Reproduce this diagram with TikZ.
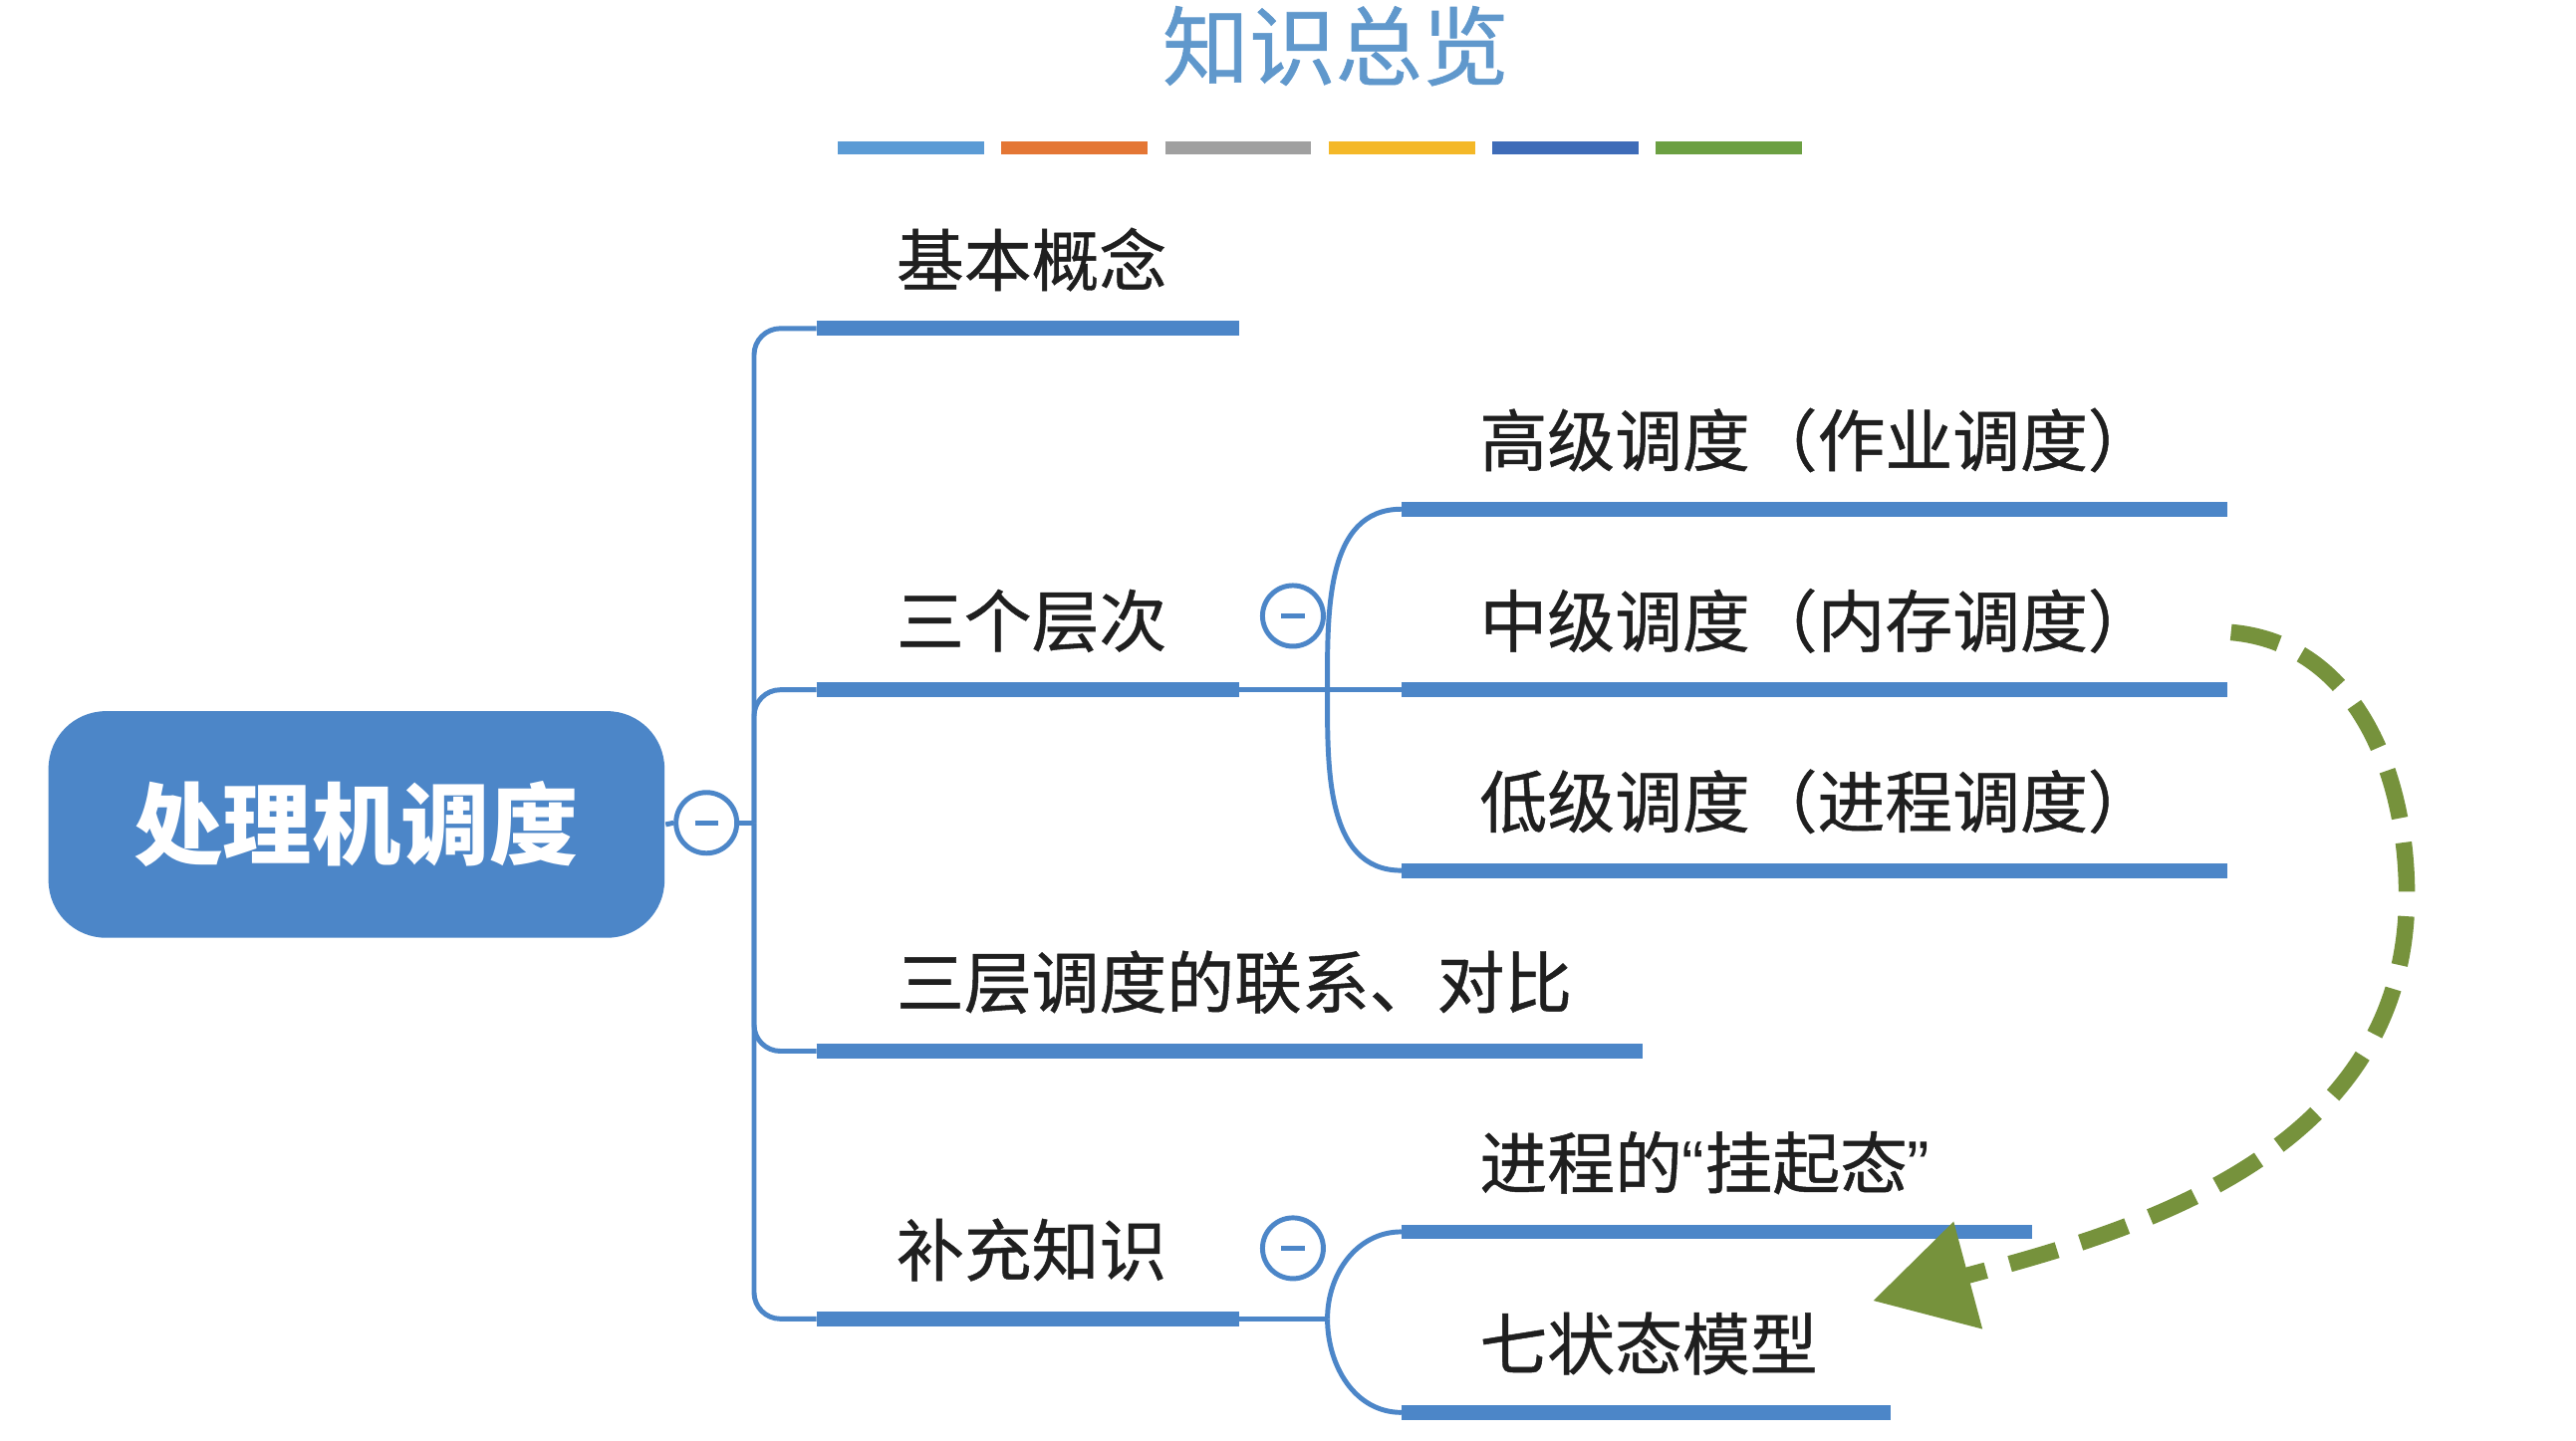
\documentclass[tikz,border=0pt]{standalone}
\usepackage{fontspec}
\newfontfamily\cjk[UprightFeatures={FakeBold=0.7}]{Noto Sans CJK SC}
\newfontfamily\quotefont{Liberation Sans}
\usetikzlibrary{arrows.meta}
\definecolor{mapblue}{RGB}{76,134,200}
\definecolor{titleblue}{RGB}{96,152,204}
\definecolor{hopgreen}{RGB}{118,146,60}
\definecolor{cbA}{RGB}{91,155,213}
\definecolor{cbB}{RGB}{228,118,52}
\definecolor{cbC}{RGB}{160,160,160}
\definecolor{cbD}{RGB}{244,184,40}
\definecolor{cbE}{RGB}{62,108,184}
\definecolor{cbF}{RGB}{108,160,66}
\tikzset{
  bar/.style={mapblue, line width=0.9mm},
  link/.style={mapblue, line width=0.3mm},
  fold/.style={circle, draw=mapblue, line width=0.3mm, fill=white, minimum size=3.7mm, inner sep=0pt},
  topic/.style={anchor=west, inner sep=0pt, text=black!88, font=\cjk\fontsize{11.7}{14}\selectfont},
  root/.style={fill=mapblue, rounded corners=3.5mm, minimum width=37.5mm, minimum height=13.8mm,
    text=white, font=\cjk\bfseries\fontsize{15.4}{18}\selectfont},
  hop/.style={hopgreen, line width=1mm, dash pattern=on 3mm off 1.5mm,
    -{Triangle[length=6mm,width=6.5mm]}},
}
\begin{document}
\begin{tikzpicture}[x=0.1mm,y=-0.1mm]
    \fill[white] (0,0) rectangle (1568,877);
    \useasboundingbox (0,0) rectangle (1568,877);
    % title and colour strip
    \node[text=titleblue, font=\cjk\fontsize{15}{18}\selectfont] (title) at (813,28) {知识总览};
    \foreach \c [count=\i from 0] in {cbA,cbB,cbC,cbD,cbE,cbF}
        \draw[\c, line width=0.8mm] (510+\i*99.6,90) -- ++(89,0);
    % root
    \node[root] (root) at (217,502) {处理机调度};
    \node[fold] (f0) at (430,501) {};
    \coordinate (hub) at (459,501);
    % first level
    \coordinate (k1a) at (497,200); \coordinate (k1b) at (754,200);
    \coordinate (k2a) at (497,420); \coordinate (k2b) at (754,420);
    \coordinate (k3a) at (497,640); \coordinate (k3b) at (1000,640);
    \coordinate (k4a) at (497,803); \coordinate (k4b) at (754,803);
    \node[topic] (k1) at (545,158) {基本概念};
    \node[topic] (k2) at (545,378) {三个层次};
    \node[topic] (k3) at (545,598) {三层调度的联系、对比};
    \node[topic] (k4) at (545,761) {补充知识};
    \node[fold] (f1) at (787,375) {};
    \node[fold] (f2) at (787,760) {};
    % second level
    \coordinate (j2) at (808,420); \coordinate (j4) at (808,803);
    \coordinate (s1a) at (853,310); \coordinate (s1b) at (1356,310);
    \coordinate (s2a) at (853,420); \coordinate (s2b) at (1356,420);
    \coordinate (s3a) at (853,530); \coordinate (s3b) at (1356,530);
    \coordinate (t1a) at (853,750); \coordinate (t1b) at (1237,750);
    \coordinate (t2a) at (853,860); \coordinate (t2b) at (1151,860);
    \node[topic] (s1) at (900,268) {高级调度（作业调度）};
    \node[topic] (s2) at (900,378) {中级调度（内存调度）};
    \node[topic] (s3) at (900,488) {低级调度（进程调度）};
    \node[topic] (t1) at (900,708) {进程的{\quotefont“}挂起态{\quotefont”}};
    \node[topic] (t2) at (900,818) {七状态模型};
    % connectors
    \draw[link] (root.east) -- (f0.west);
    \draw[link] (f0.east) -- (hub);
    \foreach \b in {k1a,k2a,k3a,k4a}
        \draw[link, rounded corners=1.6mm] (hub) |- (\b);
    \draw[link] (k2b) -- (j2) -- (s2a);
    \draw[link] (j2) to[out=90,in=180] (s1a);
    \draw[link] (j2) to[out=-90,in=180] (s3a);
    \draw[link] (k4b) -- (j4);
    \draw[link] (j4) to[out=90,in=180] (t1a);
    \draw[link] (j4) to[out=-90,in=180] (t2a);
    \foreach \p in {k1,k2,k3,k4,s1,s2,s3,t1,t2}
        \draw[bar] (\p a) -- (\p b);
    \foreach \f in {f0,f1,f2}
        \draw[mapblue, line width=0.3mm] ([xshift=-0.7mm]\f.center) -- ([xshift=0.7mm]\f.center);
    % suspend link
    \coordinate (g0) at (1358,385);
    \coordinate (g1) at (1140,792);
    \draw[hop] (g0) to[out=-5,in=90] (1465,545) to[out=-90,in=15] (g1);
\end{tikzpicture}
\end{document}
